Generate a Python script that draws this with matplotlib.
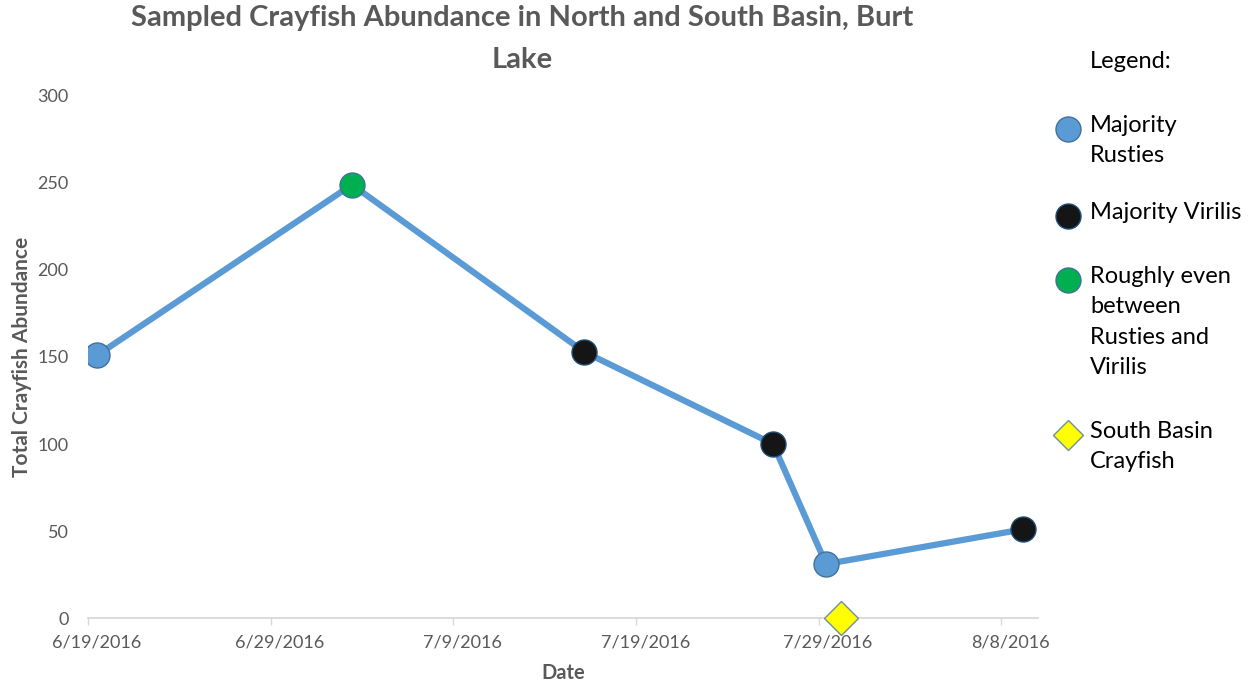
import numpy as np
import matplotlib.pyplot as plt
import matplotlib.dates as mdates
from matplotlib.lines import Line2D
import datetime as dt

plt.rcParams['font.family'] = ['Lato', 'DejaVu Sans']

# days after 6/19/2016 (Excel puts points mid-day)
start = dt.datetime(2016, 6, 19)
north_days = [0.5, 14.45, 27.15, 37.5, 40.4, 51.2]
north_abund = [151, 249, 153, 100, 31, 51]
north_group = ['rusty', 'even', 'virilis', 'virilis', 'rusty', 'virilis']
south_days = [41.2]
south_abund = [0]

tick_dates = ['6/19/2016', '6/29/2016', '7/9/2016', '7/19/2016', '7/29/2016', '8/8/2016']
y_ticks = [0, 50, 100, 150, 200, 250, 300]

colors = {'rusty': '#5b9bd5', 'virilis': '#151515', 'even': '#00b050'}
edges = {'rusty': '#41719c', 'virilis': '#1f4e79', 'even': '#41719c'}

def to_num(days):
    return [mdates.date2num(start + dt.timedelta(days=d)) for d in days]

fig = plt.figure(figsize=(12.55, 6.86), dpi=100)
ax = fig.add_axes([0.0701, 0.0991, 0.757, 0.761])

nx = to_num(north_days)
ax.plot(nx, north_abund, '-', color='#5b9bd5', lw=4.5, zorder=2, solid_capstyle='round')
for x, y, g in zip(nx, north_abund, north_group):
    ax.plot(x, y, 'o', ms=18, mfc=colors[g], mec=edges[g], mew=1, zorder=3)
ax.plot(to_num(south_days), south_abund, 'D', ms=17, mfc='#ffff00', mec='#6f8fa0',
        mew=1, zorder=4, clip_on=False)

x0 = mdates.date2num(start)
ax.set_xlim(x0, x0 + 52)
ax.set_ylim(0, 300)
tick_pos = [x0 + 10 * i for i in range(len(tick_dates))]
ax.set_xticks(tick_pos)
ax.set_xticklabels([])
ax.set_xticks([p + 0.5 for p in tick_pos], minor=True)
ax.set_xticklabels(tick_dates, minor=True)
ax.tick_params(axis='x', which='major', length=5, color='#d9d9d9', width=1)
ax.tick_params(axis='x', which='minor', length=0, pad=12, labelsize=13, labelcolor='#595959')
ax.set_yticks(y_ticks)
ax.tick_params(axis='y', length=0, pad=14, labelsize=13, labelcolor='#595959')

for s in ['top', 'right', 'left']:
    ax.spines[s].set_visible(False)
ax.spines['bottom'].set_color('#d9d9d9')
ax.spines['bottom'].set_linewidth(1.3)

ax.set_xlabel('Date', fontsize=14.5, fontweight='bold', color='#595959', labelpad=9)
ax.set_ylabel('Total Crayfish Abundance', fontsize=15, fontweight='bold', color='#595959', labelpad=4)
fig.text(0.416, 0.993, 'Sampled Crayfish Abundance in North and South Basin, Burt\nLake',
         ha='center', va='top', fontsize=21, fontweight='bold', color='#595959', linespacing=1.75)

# legend drawn as text block on the right
fig.text(1090 / 1255, 1 - 62 / 686, 'Legend:', fontsize=17, va='center', ha='left')
leg_items = [
    (129, 'Majority\nRusties', 'o', colors['rusty'], edges['rusty']),
    (216, 'Majority Virilis', 'o', colors['virilis'], edges['virilis']),
    (280, 'Roughly even\nbetween\nRusties and\nVirilis', 'o', colors['even'], edges['even']),
    (435, 'South Basin\nCrayfish', 'D', '#ffff00', '#6f8fa0'),
]
for yp, lab, mk, fc, ec in leg_items:
    fig.add_artist(Line2D([1068 / 1255], [1 - yp / 686], marker=mk, ms=18 if mk == 'o' else 15,
                          mfc=fc, mec=ec, mew=1, transform=fig.transFigure, ls='none'))
    fig.text(1090 / 1255, 1 - (yp - 14) / 686, lab, fontsize=17, va='top', ha='left',
             linespacing=1.55)

plt.savefig('out.png', dpi=100)
